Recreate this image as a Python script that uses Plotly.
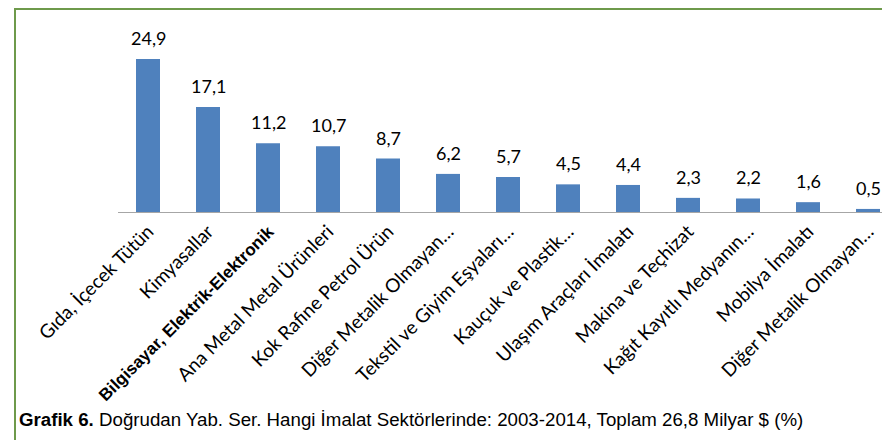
import plotly.graph_objects as go

categories = ["Gıda, İçecek Tütün", "Kimyasallar", "Bilgisayar, Elektrik-Elektronik",
              "Ana Metal Metal Ürünleri", "Kok Rafine Petrol Ürün", "Diğer Metalik Olmayan…",
              "Tekstil ve Giyim Eşyaları…", "Kauçuk ve Plastik…", "Ulaşım Araçları İmalatı",
              "Makina ve Teçhizat", "Kağıt Kayıtlı Medyanın…", "Mobilya İmalatı",
              "Diğer Metalik Olmayan…"]
values = [24.9, 17.1, 11.2, 10.7, 8.7, 6.2, 5.7, 4.5, 4.4, 2.3, 2.2, 1.6, 0.5]
caption_bold = "Grafik 6."
caption_rest = " Doğrudan Yab. Ser. Hangi İmalat Sektörlerinde: 2003-2014, Toplam 26,8 Milyar $ (%)"

# page body has an 8px margin; work in page pixels and convert
OFF = 8
W, H = 890 - OFF, 440 - OFF
ML = 118 - OFF
MT = 20 - OFF
MB = H - (212 - OFF)
MR = 0
plot_w = W - ML - MR
plot_h = H - MT - MB
px_per_cat = 60.0
px_per_unit = (212 - 59) / 24.9

xpos = list(range(len(categories)))
ticktext = []
for i, c in enumerate(categories):
    if i == 2:
        ticktext.append("<span style='font-family:\"Liberation Sans\", Arial, sans-serif;font-weight:bold;font-size:17px'>" + c + "</span>")
    else:
        ticktext.append(c)

fig = go.Figure()
fig.add_trace(go.Bar(x=xpos, y=values, width=0.4, marker=dict(color="#4F81BD", line=dict(width=0)),
                     hoverinfo="skip"))

annotations = []
for x, v in zip(xpos, values):
    annotations.append(dict(x=x, y=v, xref="x", yref="y", text=f"{v:.1f}".replace(".", ","),
                            showarrow=False, yanchor="bottom", yshift=8,
                            font=dict(family="Lato", size=18, color="#000000")))

def px_x(p):  # page pixel -> paper
    return (p - OFF - ML) / plot_w

def px_y(p):
    return (H - MB - (p - OFF)) / plot_h

annotations.append(dict(x=px_x(17), y=px_y(419), xref="paper", yref="paper",
                        xanchor="left", yanchor="middle", showarrow=False,
                        text=f"<b>{caption_bold}</b>{caption_rest}",
                        font=dict(family="Liberation Sans, Arial, sans-serif", size=18.7, color="#000000")))

green = "#6E9A4B"
shapes = [
    dict(type="line", xref="paper", yref="paper", x0=px_x(15), x1=px_x(15), y0=px_y(450), y1=px_y(9),
         line=dict(color=green, width=2)),
    dict(type="line", xref="paper", yref="paper", x0=px_x(14), x1=px_x(900), y0=px_y(9), y1=px_y(9),
         line=dict(color=green, width=2)),
]

fig.update_layout(
    width=W, height=H, margin=dict(l=ML, r=MR, t=MT, b=MB, pad=0),
    paper_bgcolor="white", plot_bgcolor="white", showlegend=False,
    annotations=annotations, shapes=shapes,
    xaxis=dict(range=[-0.5, -0.5 + plot_w / px_per_cat], tickvals=xpos, ticktext=ticktext,
               tickangle=-45, showgrid=False, zeroline=False, showline=True,
               linecolor="#A6A6A6", linewidth=1, ticks="",
               tickfont=dict(family="Lato", size=19, color="#000000")),
    yaxis=dict(range=[0, plot_h / px_per_unit], visible=False, showgrid=False, zeroline=False),
)

fig.write_html("out.html")
